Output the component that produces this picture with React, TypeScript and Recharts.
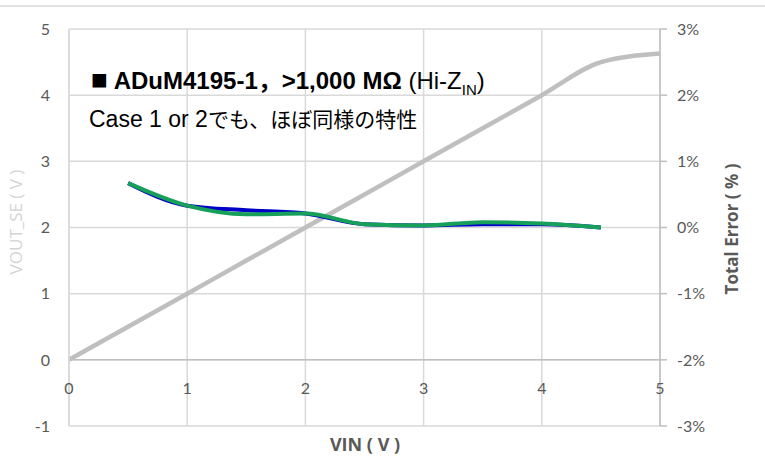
import React from 'react';
import { LineChart, Line, XAxis, YAxis, CartesianGrid, ReferenceLine } from 'recharts';

// VIN sweep (V)
const vin = [0, 0.5, 1, 1.5, 2, 2.5, 3, 3.5, 4, 4.5, 5];
// VOUT_SE (V), left axis
const voutSe = [0, 0.5, 1, 1.5, 2, 2.5, 3, 3.5, 4, 4.5, 4.63];
// Total error (%), right axis
const errorBlue = [null, 0.67, 0.33, 0.26, 0.21, 0.05, 0.03, 0.05, 0.05, 0.0, null];
const errorGreen = [null, 0.67, 0.33, 0.2, 0.21, 0.05, 0.03, 0.08, 0.06, 0.0, null];

const xTicks = [0, 1, 2, 3, 4, 5];
const leftTicks = [-1, 0, 1, 2, 3, 4, 5];
const rightTicks = [-3, -2, -1, 0, 1, 2, 3];

const data = vin.map((v, i) => ({
  vin: v,
  vout: voutSe[i],
  errBlue: errorBlue[i],
  errGreen: errorGreen[i],
}));

const tickFont = { fontFamily: 'Lato, "Open Sans", sans-serif', fontSize: 16, fill: '#595959' };

const XTick = (props: any) => (
  <text x={props.x} y={props.y - 47} textAnchor="middle" dominantBaseline="central" {...tickFont}>
    {props.payload.value}
  </text>
);

export default function App() {
  return (
    <div style={{ position: 'absolute', left: 0, top: 0, width: 765, height: 457, background: '#fff' }}>
      <div style={{ position: 'absolute', left: 0, top: 5, width: 765, borderTop: '2px solid #e3e3e3' }} />
      <LineChart width={765} height={457} data={data} margin={{ top: 29, right: 0, bottom: 0, left: 0 }}>
        <CartesianGrid stroke="#d9d9d9" strokeWidth={1.5} yAxisId="left" />
        <XAxis
          dataKey="vin"
          type="number"
          domain={[0, 5]}
          ticks={xTicks}
          axisLine={false}
          tickLine={false}
          height={31}
          tick={<XTick />}
          label={{
            value: 'VIN ( V )',
            content: () => (
              <text x={365} y={451} textAnchor="middle" fontFamily='"Open Sans", Lato, sans-serif' fontWeight="bold" fontSize={18} fill="#595959">
                VIN ( V )
              </text>
            ),
          }}
        />
        <YAxis
          yAxisId="left"
          domain={[-1, 5]}
          ticks={leftTicks}
          width={69}
          axisLine={{ stroke: '#d9d9d9', strokeWidth: 1.5 }}
          tickLine={false}
          tickSize={0}
          tickMargin={19}
          tick={tickFont}
          label={{
            value: 'VOUT_SE ( V )',
            content: () => (
              <text x={22} y={222} transform="rotate(-90, 22, 222)" textAnchor="middle" fontFamily='"Open Sans", Lato, sans-serif' fontSize={17} fill="#d4d4d4">
                VOUT_SE ( V )
              </text>
            ),
          }}
        />
        <YAxis
          yAxisId="right"
          orientation="right"
          domain={[-3, 3]}
          ticks={rightTicks}
          width={105}
          axisLine={{ stroke: '#bfbfbf', strokeWidth: 1.5 }}
          tickLine={{ stroke: '#bfbfbf', strokeWidth: 1.5 }}
          tickSize={7}
          tickMargin={10}
          tick={tickFont}
          tickFormatter={(v) => `${v}%`}
          label={{
            value: 'Total Error ( % )',
            content: () => (
              <text x={738} y={229} transform="rotate(-90, 738, 229)" textAnchor="middle" fontFamily='"Open Sans", Lato, sans-serif' fontWeight="bold" fontSize={17} fill="#595959">
                Total Error ( % )
              </text>
            ),
          }}
        />
        <ReferenceLine yAxisId="left" y={0} stroke="#bfbfbf" strokeWidth={1.5} />
        <Line
          yAxisId="left"
          type="monotone"
          dataKey="vout"
          stroke="#bfbfbf"
          strokeWidth={4.5}
          dot={false}
          isAnimationActive={false}
        />
        <Line
          yAxisId="right"
          type="monotone"
          dataKey="errBlue"
          stroke="#0000c8"
          strokeWidth={4}
          dot={false}
          isAnimationActive={false}
        />
        <Line
          yAxisId="right"
          type="monotone"
          dataKey="errGreen"
          stroke="#16a05a"
          strokeWidth={4}
          dot={false}
          isAnimationActive={false}
        />
      </LineChart>
      <div
        style={{
          position: 'absolute',
          left: 91,
          top: 68,
          fontFamily: '"Liberation Sans", Arial, "Noto Sans CJK JP", sans-serif',
          fontSize: 24,
          lineHeight: '24px',
          color: '#000',
          whiteSpace: 'nowrap',
        }}
      >
        <b>
          <span style={{ fontSize: 28 }}>■</span> ADuM4195-1，&gt;1,000 MΩ
        </b>{' '}
        (Hi-Z<sub style={{ fontSize: 15, lineHeight: '0' }}>IN</sub>)
      </div>
      <div
        style={{
          position: 'absolute',
          left: 89,
          top: 106,
          fontFamily: '"Liberation Sans", Arial, sans-serif',
          fontSize: 23,
          lineHeight: '24px',
          color: '#000',
          whiteSpace: 'nowrap',
        }}
      >
        Case 1 or 2<span style={{ fontFamily: '"Noto Sans CJK JP", sans-serif', fontSize: 21 }}>でも、ほぼ同様の特性</span>
      </div>
    </div>
  );
}
